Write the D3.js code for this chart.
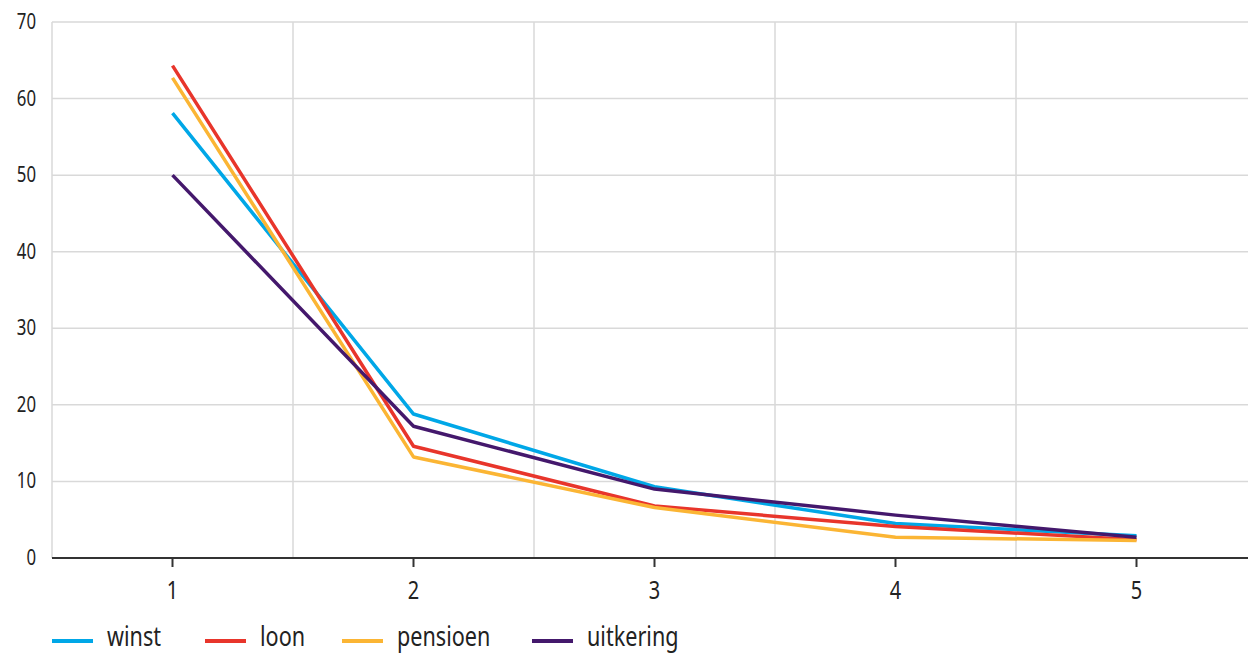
<!DOCTYPE html>
<html>
<head>
<meta charset="utf-8">
<script src="https://cdn.jsdelivr.net/npm/d3@7"></script>
<style>
  body { margin: 0; background: #fff; }
  text { font-family: "Noto Sans", "Open Sans", sans-serif; fill: #222; }
</style>
</head>
<body>
<svg width="1248" height="653"></svg>
<script>
var categories = ["1", "2", "3", "4", "5"];
var yTicks = [0, 10, 20, 30, 40, 50, 60, 70];
var seriesNames = ["winst", "loon", "pensioen", "uitkering"];
var winst = [58.1, 18.8, 9.3, 4.5, 2.9];
var loon = [64.3, 14.6, 6.8, 4.1, 2.4];
var pensioen = [62.7, 13.2, 6.6, 2.7, 2.3];
var uitkering = [50.0, 17.2, 9.0, 5.6, 2.7];
var colors = ["#00a7e7", "#e8352b", "#fbb534", "#44186c"];

var series = [winst, loon, pensioen, uitkering].map(function(v, i){
	return {name: seriesNames[i], values: v, color: colors[i]};
});

var svg = d3.select("svg");
var plotLeft = 52, plotTop = 22, plotBottom = 558, bandW = 241;
var squeeze = " scale(0.8,1)"; // the original font is narrow

var x = d3.scaleBand()
	.domain(categories)
	.range([plotLeft, plotLeft + bandW * categories.length]);

var y = d3.scaleLinear()
	.domain([0, 70])
	.range([plotBottom, plotTop]);

// horizontal grid
svg.append("g").selectAll("line").data(yTicks.filter(function(d){ return d > 0; })).enter()
	.append("line")
	.attr("x1", plotLeft).attr("x2", 1248)
	.attr("y1", function(d){ return y(d); })
	.attr("y2", function(d){ return y(d); })
	.attr("stroke", "#d9d9d9").attr("stroke-width", 1.5);

// vertical grid at band edges
var edges = categories.map(function(c){ return x(c); });
svg.append("g").selectAll("line").data(edges).enter()
	.append("line")
	.attr("x1", function(d){ return d; }).attr("x2", function(d){ return d; })
	.attr("y1", plotTop).attr("y2", plotBottom)
	.attr("stroke", "#d9d9d9").attr("stroke-width", 1.5);

// y labels
svg.append("g").selectAll("text").data(yTicks).enter()
	.append("text")
	.attr("transform", function(d){ return "translate(36," + (y(d) + 7) + ")" + squeeze; })
	.attr("text-anchor", "end")
	.style("font-size", "21px")
	.text(function(d){ return d; });

// x axis
var xAxis = svg.append("g")
	.attr("transform", "translate(0," + plotBottom + ")")
	.call(d3.axisBottom(x).tickSize(9).tickPadding(8));
xAxis.select(".domain").remove();
xAxis.append("line")
	.attr("x1", plotLeft).attr("x2", 1248)
	.attr("stroke", "#333").attr("stroke-width", 2);
xAxis.selectAll(".tick line").attr("stroke", "#333").attr("stroke-width", 2);
xAxis.selectAll(".tick text").remove();
xAxis.selectAll(".tick").append("text")
	.attr("transform", "translate(0,41)" + squeeze)
	.attr("text-anchor", "middle")
	.style("font-size", "25px")
	.attr("fill", "#222")
	.text(function(d){ return d; });

// lines
var line = d3.line()
	.x(function(d, i){ return x(categories[i]) + x.bandwidth() / 2; })
	.y(function(d){ return y(d); });

svg.append("g").selectAll("path").data(series).enter()
	.append("path")
	.attr("d", function(d){ return line(d.values); })
	.attr("fill", "none")
	.attr("stroke", function(d){ return d.color; })
	.attr("stroke-width", 3.5)
	.attr("stroke-linejoin", "round");

// legend
var legendX = [52, 205, 342, 532];
var legend = svg.append("g").selectAll("g").data(series).enter()
	.append("g")
	.attr("transform", function(d, i){ return "translate(" + legendX[i] + ",641)"; });
legend.append("line")
	.attr("x1", 0).attr("x2", 41)
	.attr("stroke", function(d){ return d.color; })
	.attr("stroke-width", 4);
legend.append("text")
	.attr("transform", "translate(55,5)" + squeeze)
	.style("font-size", "27px")
	.text(function(d){ return d.name; });
</script>
</body>
</html>
